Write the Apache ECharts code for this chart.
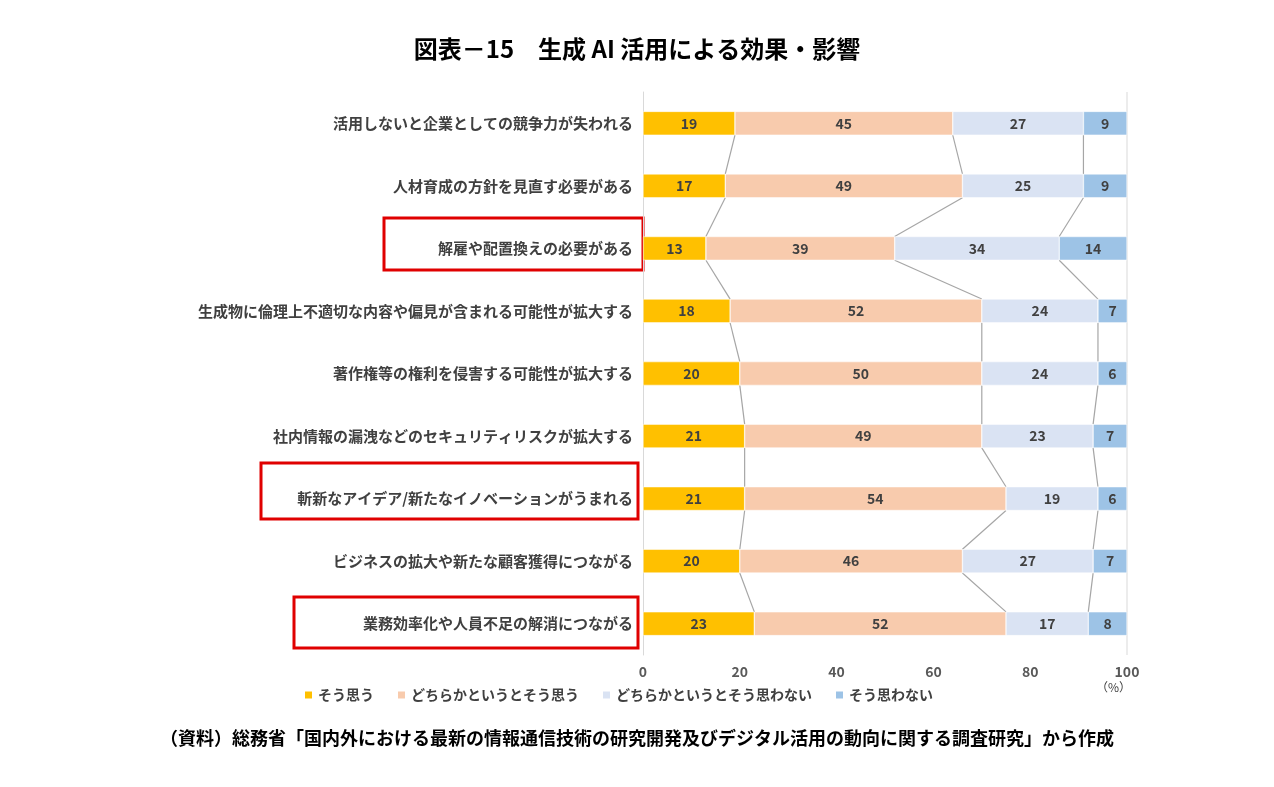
<!DOCTYPE html>
<html><head><meta charset="utf-8">
<script src="https://cdn.jsdelivr.net/npm/echarts@6/dist/echarts.min.js"></script>
<style>html,body{margin:0;padding:0;background:#fff}#c{width:1274px;height:787px}</style>
</head><body><div id="c"></div>
<script>
const categories = ['活用しないと企業としての競争力が失われる','人材育成の方針を見直す必要がある','解雇や配置換えの必要がある','生成物に倫理上不適切な内容や偏見が含まれる可能性が拡大する','著作権等の権利を侵害する可能性が拡大する','社内情報の漏洩などのセキュリティリスクが拡大する','斬新なアイデア/新たなイノベーションがうまれる','ビジネスの拡大や新たな顧客獲得につながる','業務効率化や人員不足の解消につながる'];
const seriesNames = ['そう思う','どちらかというとそう思う','どちらかというとそう思わない','そう思わない'];
const agree = [19,17,13,18,20,21,21,20,23];
const somewhatAgree = [45,49,39,52,50,49,54,46,52];
const somewhatDisagree = [27,25,34,24,24,23,19,27,17];
const disagree = [9,9,14,7,6,7,6,7,8];
const xTicks = [0,20,40,60,80,100];
const colors = ['#FFC000','#F8CBAD','#DAE3F3','#9DC3E6'];
const all = [agree,somewhatAgree,somewhatDisagree,disagree];
const font = '"Noto Sans CJK JP", sans-serif';
const barRatio = 0.38;
const chart = echarts.init(document.getElementById('c'));
const bars = all.map((d,k)=>({
  name: seriesNames[k], type:'bar', stack:'t', data:d, barWidth:(barRatio*100)+'%',
  itemStyle:{color:colors[k], borderColor:'#fff', borderWidth:0.5},
  label:{show:true, color:'#404040', fontWeight:'bold', fontSize:14, fontFamily:font},
  z:3
}));
function cum(i){ let s=0; return [0,1,2].map(k=>{s+=all[k][i]; return Math.min(s,100);}); }
const connector = {
  type:'custom', silent:true, z:2,
  data: categories.slice(0,-1).map((c,i)=>[0,i]),
  encode:{x:0,y:1},
  renderItem:(params, api)=>{
    const i = api.value(1);
    const a = cum(i), b = cum(i+1);
    const h = api.size([0,1])[1]*barRatio/2;
    return {type:'group', children:a.map((v,k)=>{
      const p1 = api.coord([v,i]), p2 = api.coord([b[k],i+1]);
      return {type:'line', shape:{x1:p1[0],y1:p1[1]+h,x2:p2[0],y2:p2[1]-h}, style:{stroke:'#a6a6a6',lineWidth:1.2}};
    })};
  }
};
chart.setOption({
  title:{text:'図表－15　生成 AI 活用による効果・影響', left:'center', top:32, textStyle:{fontSize:24, fontWeight:'bold', color:'#000', fontFamily:font}},
  legend:{data:seriesNames, left:298, top:683, itemWidth:9, itemHeight:9, itemGap:22, icon:'rect', textStyle:{fontSize:14, fontWeight:'bold', color:'#404040', fontFamily:font}},
  grid:{left:643, right:147, top:92, bottom:132},
  xAxis:{type:'value', min:0, max:100, interval:20, axisLabel:{fontSize:14, fontWeight:'bold', color:'#595959', fontFamily:font, margin:10},
    splitLine:{show:false}, axisLine:{show:false}},
  yAxis:{type:'category', data:categories, inverse:true, axisTick:{show:false},
    axisLine:{lineStyle:{color:'#d9d9d9'}}, axisLabel:{fontSize:15, fontWeight:'bold', color:'#404040', fontFamily:font, margin:10}},
  series:[...bars, connector],
  graphic:[
    {type:'line', shape:{x1:1127,y1:92,x2:1127,y2:655}, style:{stroke:'#d9d9d9',lineWidth:1}},
    {type:'text', left:1096, top:681, style:{text:'（%）', fontSize:12, fill:'#404040', fontFamily:font}},
    {type:'text', left:'center', top:729, style:{text:'（資料）総務省「国内外における最新の情報通信技術の研究開発及びデジタル活用の動向に関する調査研究」から作成', fontSize:18, fontWeight:'bold', fill:'#000', fontFamily:font}},
    {type:'rect', shape:{x:384,y:218,width:259,height:52}, style:{fill:'none', stroke:'#e00000', lineWidth:3}},
    {type:'rect', shape:{x:261,y:463,width:377,height:56}, style:{fill:'none', stroke:'#e00000', lineWidth:3}},
    {type:'rect', shape:{x:294,y:597,width:344,height:51}, style:{fill:'none', stroke:'#e00000', lineWidth:3}}
  ]
});
</script></body></html>
